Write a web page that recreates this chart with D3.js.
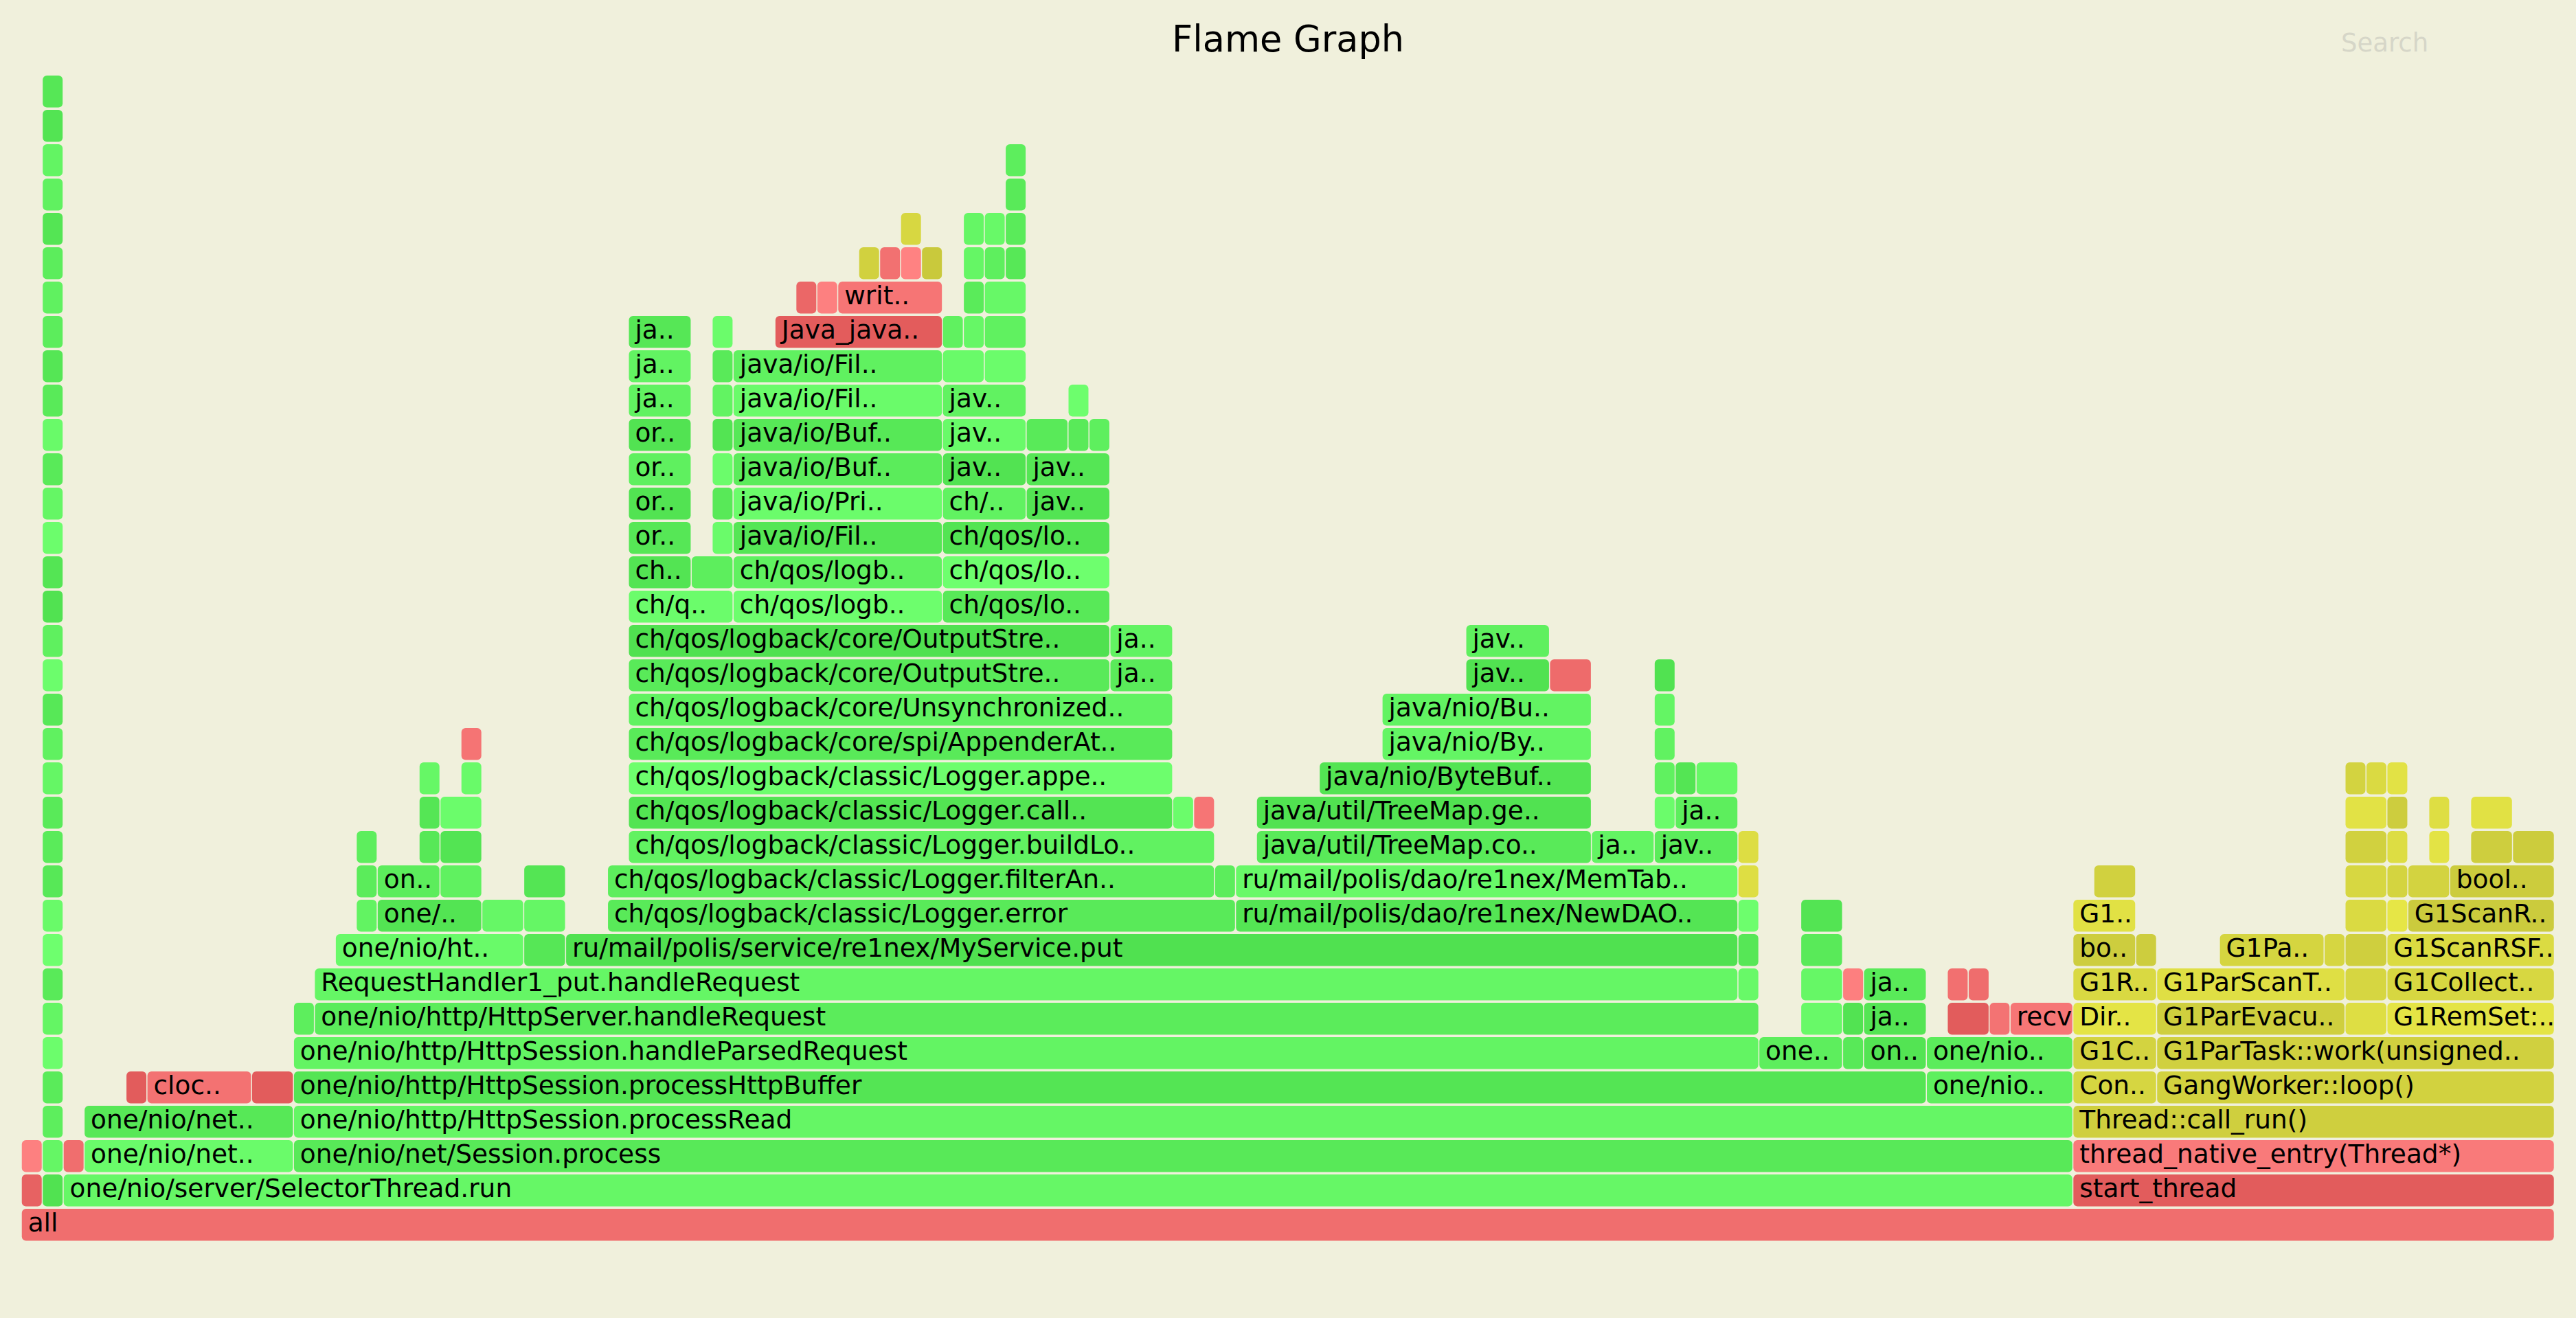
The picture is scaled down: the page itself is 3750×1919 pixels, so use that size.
<!DOCTYPE html>
<html>
<head>
<meta charset="utf-8">
<script src="https://cdn.jsdelivr.net/npm/d3@7"></script>
<style>
  html, body { margin: 0; padding: 0; background: #f0f0dc; }
  svg { display: block; }
</style>
</head>
<body>
<svg id="chart" width="3750" height="1919"></svg>
<script>
// ---------------- DATA ----------------
const chartTitle = "Flame Graph";
const searchLabel = "Search";
const totalSamples = 121;
// each frame: [startSample, endSample, label (as displayed), kind]  kind: j=java, c=cpp, n=native
const level0 = [[0,121,"all","n"]];
const level1 = [[0,1,"","n"],[1,2,"","j"],[2,98,"one/nio/server/SelectorThread.run","j"],[98,121,"start_thread","n"]];
const level2 = [[0,1,"","n"],[1,2,"","j"],[2,3,"","n"],[3,13,"one/nio/net..","j"],[13,98,"one/nio/net/Session.process","j"],[98,121,"thread_native_entry(Thread*)","n"]];
const level3 = [[1,2,"","j"],[3,13,"one/nio/net..","j"],[13,98,"one/nio/http/HttpSession.processRead","j"],[98,121,"Thread::call_run()","c"]];
const level4 = [[1,2,"","j"],[5,6,"","n"],[6,11,"cloc..","n"],[11,13,"","n"],[13,91,"one/nio/http/HttpSession.processHttpBuffer","j"],[91,98,"one/nio..","j"],[98,102,"Con..","c"],[102,121,"GangWorker::loop()","c"]];
const level5 = [[1,2,"","j"],[13,83,"one/nio/http/HttpSession.handleParsedRequest","j"],[83,87,"one..","j"],[87,88,"","j"],[88,91,"on..","j"],[91,98,"one/nio..","j"],[98,102,"G1C..","c"],[102,121,"G1ParTask::work(unsigned..","c"]];
const level6 = [[1,2,"","j"],[13,14,"","j"],[14,83,"one/nio/http/HttpServer.handleRequest","j"],[85,87,"","j"],[87,88,"","j"],[88,91,"ja..","j"],[92,94,"","n"],[94,95,"","n"],[95,98,"recv","n"],[98,102,"Dir..","c"],[102,111,"G1ParEvacu..","c"],[111,113,"","c"],[113,121,"G1RemSet:..","c"]];
const level7 = [[1,2,"","j"],[14,82,"RequestHandler1_put.handleRequest","j"],[82,83,"","j"],[85,87,"","j"],[87,88,"","n"],[88,91,"ja..","j"],[92,93,"","n"],[93,94,"","n"],[98,102,"G1R..","c"],[102,111,"G1ParScanT..","c"],[111,113,"","c"],[113,121,"G1Collect..","c"]];
const level8 = [[1,2,"","j"],[15,24,"one/nio/ht..","j"],[24,26,"","j"],[26,82,"ru/mail/polis/service/re1nex/MyService.put","j"],[82,83,"","j"],[85,87,"","j"],[98,101,"bo..","c"],[101,102,"","c"],[105,110,"G1Pa..","c"],[110,111,"","c"],[111,113,"","c"],[113,121,"G1ScanRSF..","c"]];
const level9 = [[1,2,"","j"],[16,17,"","j"],[17,22,"one/..","j"],[22,24,"","j"],[24,26,"","j"],[28,58,"ch/qos/logback/classic/Logger.error","j"],[58,82,"ru/mail/polis/dao/re1nex/NewDAO..","j"],[82,83,"","j"],[85,87,"","j"],[98,101,"G1..","c"],[111,113,"","c"],[113,114,"","c"],[114,121,"G1ScanR..","c"]];
const level10 = [[1,2,"","j"],[16,17,"","j"],[17,20,"on..","j"],[20,22,"","j"],[24,26,"","j"],[28,57,"ch/qos/logback/classic/Logger.filterAn..","j"],[57,58,"","j"],[58,82,"ru/mail/polis/dao/re1nex/MemTab..","j"],[82,83,"","c"],[99,101,"","c"],[111,113,"","c"],[113,114,"","c"],[114,116,"","c"],[116,121,"bool..","c"]];
const level11 = [[1,2,"","j"],[16,17,"","j"],[19,20,"","j"],[20,22,"","j"],[29,57,"ch/qos/logback/classic/Logger.buildLo..","j"],[59,75,"java/util/TreeMap.co..","j"],[75,78,"ja..","j"],[78,82,"jav..","j"],[82,83,"","c"],[111,113,"","c"],[113,114,"","c"],[115,116,"","c"],[117,119,"","c"],[119,121,"","c"]];
const level12 = [[1,2,"","j"],[19,20,"","j"],[20,22,"","j"],[29,55,"ch/qos/logback/classic/Logger.call..","j"],[55,56,"","j"],[56,57,"","n"],[59,75,"java/util/TreeMap.ge..","j"],[78,79,"","j"],[79,82,"ja..","j"],[111,113,"","c"],[113,114,"","c"],[115,116,"","c"],[117,119,"","c"]];
const level13 = [[1,2,"","j"],[19,20,"","j"],[21,22,"","j"],[29,55,"ch/qos/logback/classic/Logger.appe..","j"],[62,75,"java/nio/ByteBuf..","j"],[78,79,"","j"],[79,80,"","j"],[80,82,"","j"],[111,112,"","c"],[112,113,"","c"],[113,114,"","c"]];
const level14 = [[1,2,"","j"],[21,22,"","n"],[29,55,"ch/qos/logback/core/spi/AppenderAt..","j"],[65,75,"java/nio/By..","j"],[78,79,"","j"]];
const level15 = [[1,2,"","j"],[29,55,"ch/qos/logback/core/Unsynchronized..","j"],[65,75,"java/nio/Bu..","j"],[78,79,"","j"]];
const level16 = [[1,2,"","j"],[29,52,"ch/qos/logback/core/OutputStre..","j"],[52,55,"ja..","j"],[69,73,"jav..","j"],[73,75,"","n"],[78,79,"","j"]];
const level17 = [[1,2,"","j"],[29,52,"ch/qos/logback/core/OutputStre..","j"],[52,55,"ja..","j"],[69,73,"jav..","j"]];
const level18 = [[1,2,"","j"],[29,34,"ch/q..","j"],[34,44,"ch/qos/logb..","j"],[44,52,"ch/qos/lo..","j"]];
const level19 = [[1,2,"","j"],[29,32,"ch..","j"],[32,34,"","j"],[34,44,"ch/qos/logb..","j"],[44,52,"ch/qos/lo..","j"]];
const level20 = [[1,2,"","j"],[29,32,"or..","j"],[33,34,"","j"],[34,44,"java/io/Fil..","j"],[44,52,"ch/qos/lo..","j"]];
const level21 = [[1,2,"","j"],[29,32,"or..","j"],[33,34,"","j"],[34,44,"java/io/Pri..","j"],[44,48,"ch/..","j"],[48,52,"jav..","j"]];
const level22 = [[1,2,"","j"],[29,32,"or..","j"],[33,34,"","j"],[34,44,"java/io/Buf..","j"],[44,48,"jav..","j"],[48,52,"jav..","j"]];
const level23 = [[1,2,"","j"],[29,32,"or..","j"],[33,34,"","j"],[34,44,"java/io/Buf..","j"],[44,48,"jav..","j"],[48,50,"","j"],[50,51,"","j"],[51,52,"","j"]];
const level24 = [[1,2,"","j"],[29,32,"ja..","j"],[33,34,"","j"],[34,44,"java/io/Fil..","j"],[44,48,"jav..","j"],[50,51,"","j"]];
const level25 = [[1,2,"","j"],[29,32,"ja..","j"],[33,34,"","j"],[34,44,"java/io/Fil..","j"],[44,46,"","j"],[46,48,"","j"]];
const level26 = [[1,2,"","j"],[29,32,"ja..","j"],[33,34,"","j"],[36,44,"Java_java..","n"],[44,45,"","j"],[45,46,"","j"],[46,48,"","j"]];
const level27 = [[1,2,"","j"],[37,38,"","n"],[38,39,"","n"],[39,44,"writ..","n"],[45,46,"","j"],[46,48,"","j"]];
const level28 = [[1,2,"","j"],[40,41,"","c"],[41,42,"","n"],[42,43,"","n"],[43,44,"","c"],[45,46,"","j"],[46,47,"","j"],[47,48,"","j"]];
const level29 = [[1,2,"","j"],[42,43,"","c"],[45,46,"","j"],[46,47,"","j"],[47,48,"","j"]];
const level30 = [[1,2,"","j"],[47,48,"","j"]];
const level31 = [[1,2,"","j"],[47,48,"","j"]];
const level32 = [[1,2,"","j"]];
const level33 = [[1,2,"","j"]];

const levels = [level0,level1,level2,level3,level4,level5,level6,level7,level8,level9,level10,
  level11,level12,level13,level14,level15,level16,level17,level18,level19,level20,level21,level22,
  level23,level24,level25,level26,level27,level28,level29,level30,level31,level32,level33];

// ---------------- RENDER ----------------
const W = 3750, H = 1919;
const FONT = "DejaVu Sans, Verdana, sans-serif";
const svg = d3.select("#chart");
svg.append("rect").attr("width", W).attr("height", H).attr("fill", "#f0f0dc");

svg.append("text")
  .attr("x", W / 2).attr("y", 75)
  .attr("text-anchor", "middle")
  .attr("font-family", FONT)
  .attr("font-size", 52.5)
  .attr("fill", "#000")
  .text(chartTitle);

svg.append("text")
  .attr("x", 3408).attr("y", 75)
  .attr("font-family", FONT)
  .attr("font-size", 37)
  .attr("fill", "#d6d6c8")
  .text(searchLabel);

const frames = levels.flatMap((row, depth) =>
  row.map(([s, e, label, kind]) => ({ depth, s, e, label, kind })));

const x = d3.scaleLinear().domain([0, totalSamples]).range([31.25, 3718.75]);
const y = d3.scaleLinear().domain([0, levels.length - 1]).range([1760, 110]);
const boxH = 46.5;

const palettes = {
  j: { base: [80, 225, 80], vary: [30, 30, 30] },
  c: { base: [200, 200, 60], vary: [30, 30, 10] },
  n: { base: [225, 90, 90], vary: [30, 40, 40] }
};
function shade(d) {
  const t = Math.sin(d.depth * 12.9898 + d.s * 78.233 + d.e * 3.17) * 43758.5453;
  return t - Math.floor(t);
}
function color(d) {
  const p = palettes[d.kind], v = shade(d);
  return d3.rgb(p.base[0] + p.vary[0] * v, p.base[1] + p.vary[1] * v, p.base[2] + p.vary[2] * v).toString();
}

const g = svg.append("g").attr("class", "frames");
const nodes = g.selectAll("g.frame").data(frames).join("g").attr("class", "frame");

nodes.append("rect")
  .attr("x", d => x(d.s) + 0.5)
  .attr("y", d => y(d.depth))
  .attr("width", d => Math.max(0, x(d.e) - x(d.s) - 1.5))
  .attr("height", boxH)
  .attr("rx", 6).attr("ry", 6)
  .attr("fill", color);

nodes.filter(d => d.label)
  .append("text")
  .attr("x", d => x(d.s) + 9.4)
  .attr("y", d => y(d.depth) + 33)
  .attr("font-family", FONT)
  .attr("font-size", 37.5)
  .attr("fill", "#000")
  .text(d => d.label);
</script>
</body>
</html>
